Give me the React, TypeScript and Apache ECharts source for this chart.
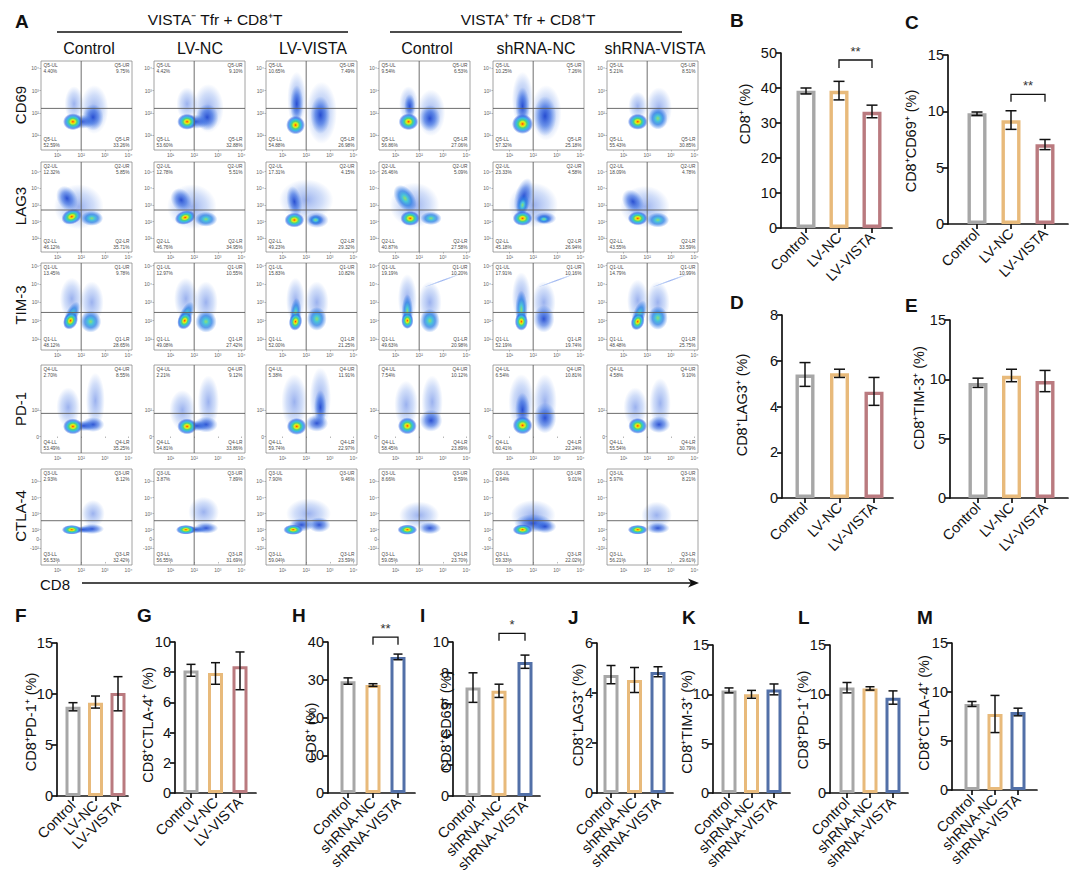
import { useEffect, useRef } from 'react';
import * as echarts from 'echarts';

const FONT = '"Liberation Sans", Arial, Helvetica, sans-serif';

// ---------------- Panel A : flow cytometry ----------------
const groupHeaders = ['VISTA⁻ Tfr + CD8⁺T', 'VISTA⁺ Tfr + CD8⁺T'];
const flowColumns = ['Control', 'LV-NC', 'LV-VISTA', 'Control', 'shRNA-NC', 'shRNA-VISTA'];
const flowMarkers = ['CD69', 'LAG3', 'TIM-3', 'PD-1', 'CTLA-4'];
const quadrantGates = ['Q5', 'Q2', 'Q1', 'Q4', 'Q3'];

const flowXTicks = [1, 2, 3, 4];
const flowXTickLabels = ['10¹', '10²', '10³', '10⁴'];

const cd69YTicks = [1, 2, 3, 4];
const cd69YLabels = ['10¹', '10²', '10³', '10⁴'];
const lag3YTicks = [1, 2, 3, 4, 5];
const lag3YLabels = ['10¹', '10²', '10³', '10⁴', '10⁵'];
const tim3YTicks = [1, 2, 3, 4, 5];
const tim3YLabels = ['10¹', '10²', '10³', '10⁴', '10⁵'];
const pd1YTicks = [0, 1];
const pd1YLabels = ['0', '10²'];
const ctla4YTicks = [0.85, 1.42, 2, 3, 4, 5];
const ctla4YLabels = ['-10²', '0', '10²', '10³', '10⁴', '10⁵'];

const flowXRange = [0.3, 4.15];
const flowYRanges = [[0.33, 4.33], [0.18, 5.58], [0.4, 5.15], [-0.62, 2.69], [-0.19, 5.77]];
const gateX = 2.0;
const gateY = [2.2, 2.7, 2.45, 0.87, 2.56];

// quadrant percentages [UL, UR, LL, LR]
const cd69Percents = [
  [4.40, 9.75, 52.59, 33.26], [4.42, 9.10, 53.60, 32.88], [10.65, 7.49, 54.88, 26.98],
  [9.54, 6.53, 56.86, 27.06], [10.25, 7.26, 57.32, 25.18], [5.21, 8.51, 55.43, 30.85],
];
const lag3Percents = [
  [12.32, 5.85, 46.12, 35.71], [12.78, 5.51, 46.76, 34.95], [17.31, 4.15, 49.23, 29.32],
  [26.46, 5.09, 40.87, 27.58], [23.33, 4.58, 45.18, 26.94], [18.09, 4.78, 43.55, 33.59],
];
const tim3Percents = [
  [13.45, 9.78, 48.12, 28.65], [12.97, 10.55, 49.08, 27.42], [15.83, 10.82, 52.00, 21.25],
  [19.19, 10.20, 49.63, 20.98], [17.91, 10.16, 52.19, 19.74], [14.79, 10.99, 48.48, 25.75],
];
const pd1Percents = [
  [2.70, 8.55, 53.49, 35.25], [2.21, 9.12, 54.81, 33.86], [5.38, 11.91, 59.74, 22.97],
  [7.54, 10.12, 58.45, 23.89], [6.54, 10.81, 60.41, 22.24], [4.58, 9.10, 55.54, 30.79],
];
const ctla4Percents = [
  [2.93, 8.12, 56.53, 32.42], [3.87, 7.89, 56.55, 31.69], [7.90, 9.46, 59.04, 23.59],
  [8.66, 8.59, 59.05, 23.70], [9.64, 9.01, 59.33, 22.02], [5.97, 8.21, 56.21, 29.61],
];

// density populations: [x, y, spreadX, spreadY, density level 0-3, tilt deg]
const cd69Populations = [
  [[1.7, 2.4, 0.4, 0.8, 0, 0], [2.55, 2.15, 0.6, 1.1, 0, 0], [2.5, 1.8, 0.45, 0.6, 1, 0], [2.0, 1.6, 0.6, 0.32, 1, 0], [1.65, 1.6, 0.42, 0.38, 3, 0]],
  [[1.7, 2.4, 0.45, 0.75, 0, 0], [2.6, 2.2, 0.65, 1.1, 0, 0], [2.55, 1.8, 0.48, 0.6, 1, 0], [2.05, 1.6, 0.6, 0.32, 1, 0], [1.7, 1.6, 0.42, 0.36, 3, 0]],
  [[1.6, 2.6, 0.4, 1.25, 0, 0], [1.6, 2.4, 0.28, 0.85, 1, 0], [2.65, 2.0, 0.65, 1.4, 0, 0], [2.6, 1.9, 0.42, 0.85, 1, 0], [1.55, 1.45, 0.4, 0.42, 3, 0]],
  [[1.55, 2.4, 0.4, 0.8, 0, 0], [1.6, 2.3, 0.24, 0.55, 1, 0], [2.5, 2.0, 0.6, 1.05, 0, 0], [2.45, 1.75, 0.45, 0.6, 1, 0], [1.55, 1.6, 0.42, 0.38, 3, 0]],
  [[1.55, 2.6, 0.45, 1.25, 0, 0], [1.55, 2.3, 0.3, 0.85, 1, 0], [2.55, 2.0, 0.65, 1.25, 0, 0], [2.5, 1.85, 0.48, 0.9, 1, 0], [1.55, 1.5, 0.45, 0.45, 3, 0]],
  [[1.6, 2.3, 0.4, 0.65, 0, 0], [2.5, 2.2, 0.55, 0.95, 0, 0], [2.45, 1.75, 0.42, 0.5, 2, 0], [1.6, 1.6, 0.42, 0.36, 3, 0]],
];
const lag3Populations = [
  [[1.9, 2.9, 1.05, 1.35, 0, 0], [1.4, 3.4, 0.42, 0.8, 1, 30], [2.45, 2.2, 0.48, 0.45, 2, 0], [1.6, 2.3, 0.45, 0.45, 3, 20]],
  [[1.9, 2.9, 1.05, 1.35, 0, 0], [1.45, 3.3, 0.42, 0.75, 1, 30], [2.5, 2.15, 0.48, 0.45, 2, 0], [1.62, 2.25, 0.45, 0.42, 3, 15]],
  [[2.0, 3.3, 1.15, 1.25, 0, 0], [1.5, 3.2, 0.32, 0.95, 1, 10], [2.45, 2.1, 0.5, 0.48, 1, 0], [2.4, 2.1, 0.32, 0.32, 2, 0], [1.5, 2.1, 0.42, 0.45, 3, 0]],
  [[1.8, 3.0, 1.05, 1.35, 0, 0], [1.4, 3.4, 0.4, 0.9, 2, 35], [2.5, 2.2, 0.45, 0.4, 2, 0], [1.62, 2.2, 0.42, 0.45, 3, 0]],
  [[2.0, 3.0, 1.05, 1.35, 0, 0], [1.6, 3.5, 0.38, 1.15, 1, -15], [1.55, 3.0, 0.27, 0.65, 2, -10], [2.5, 2.2, 0.48, 0.38, 1, 0], [2.45, 2.15, 0.32, 0.27, 2, 0], [1.55, 2.2, 0.42, 0.45, 3, 0]],
  [[1.9, 2.9, 1.05, 1.25, 0, 0], [1.4, 3.2, 0.42, 0.8, 1, 35], [2.45, 2.1, 0.48, 0.45, 2, 0], [1.6, 2.2, 0.42, 0.42, 3, 0]],
];
const tim3Populations = [
  [[1.6, 3.2, 0.5, 1.15, 0, 0], [2.45, 3.0, 0.5, 1.15, 0, 0], [2.4, 1.95, 0.45, 0.6, 2, 0], [1.6, 2.3, 0.27, 0.8, 2, -25], [1.55, 2.0, 0.3, 0.5, 3, -25]],
  [[1.65, 3.2, 0.5, 1.15, 0, 0], [2.5, 3.0, 0.5, 1.15, 0, 0], [2.5, 1.95, 0.45, 0.6, 2, 0], [1.65, 2.3, 0.27, 0.8, 2, -25], [1.6, 2.0, 0.3, 0.5, 3, -25]],
  [[1.55, 3.1, 0.4, 1.25, 0, 0], [2.45, 3.0, 0.5, 1.15, 0, 0], [2.45, 2.1, 0.42, 0.65, 2, 0], [1.55, 2.4, 0.24, 0.85, 2, -5], [1.55, 1.95, 0.28, 0.5, 3, -10]],
  [[1.5, 3.2, 0.4, 1.35, 0, 0], [2.45, 3.0, 0.5, 1.15, 0, 0], [3.0, 4.2, 0.9, 0.06, 0, 20], [2.45, 2.0, 0.42, 0.65, 2, 0], [1.5, 2.5, 0.24, 0.95, 2, 0], [1.5, 2.0, 0.26, 0.45, 3, 0]],
  [[1.5, 3.3, 0.4, 1.35, 0, 0], [2.45, 3.0, 0.5, 1.15, 0, 0], [3.0, 4.2, 0.9, 0.06, 0, 20], [2.45, 2.1, 0.45, 0.75, 1, 0], [1.5, 2.6, 0.26, 1.05, 2, 0], [1.5, 1.95, 0.28, 0.5, 3, 0]],
  [[1.6, 3.1, 0.45, 1.15, 0, 0], [2.45, 3.0, 0.5, 1.15, 0, 0], [3.0, 4.2, 0.9, 0.06, 0, 20], [2.45, 2.15, 0.42, 0.65, 2, 0], [1.65, 2.3, 0.27, 0.85, 2, -20], [1.6, 1.95, 0.28, 0.48, 3, -20]],
];
const pd1Populations = [
  [[1.45, 1.1, 0.5, 0.75, 0, 0], [2.6, 1.35, 0.4, 1.05, 0, 0], [2.5, 0.45, 0.48, 0.28, 1, 0], [2.1, 0.4, 0.5, 0.2, 1, 0], [1.65, 0.38, 0.42, 0.3, 3, 0]],
  [[1.5, 1.0, 0.55, 0.75, 0, 0], [2.6, 1.3, 0.45, 1.0, 0, 0], [2.5, 0.45, 0.5, 0.3, 1, 0], [2.1, 0.4, 0.5, 0.2, 1, 0], [1.7, 0.38, 0.42, 0.3, 3, 0]],
  [[1.5, 1.3, 0.55, 1.05, 0, 0], [2.6, 1.45, 0.45, 1.15, 0, 0], [2.6, 1.1, 0.27, 0.65, 1, 0], [2.45, 0.5, 0.48, 0.32, 1, 0], [1.6, 0.38, 0.42, 0.32, 3, 0]],
  [[1.45, 1.2, 0.5, 0.9, 0, 0], [2.55, 1.3, 0.45, 1.0, 0, 0], [2.5, 0.6, 0.48, 0.42, 1, 0], [1.5, 0.4, 0.4, 0.32, 3, 0]],
  [[1.5, 1.3, 0.55, 1.05, 0, 0], [2.5, 1.3, 0.5, 1.05, 0, 0], [1.55, 1.0, 0.32, 0.65, 1, 0], [2.5, 0.7, 0.48, 0.58, 1, 0], [1.55, 0.42, 0.42, 0.34, 3, 0]],
  [[1.5, 1.1, 0.5, 0.75, 0, 0], [2.55, 1.25, 0.45, 0.95, 0, 0], [2.5, 0.45, 0.48, 0.32, 1, 0], [1.6, 0.4, 0.4, 0.3, 3, 0]],
];
const ctla4Populations = [
  [[2.5, 3.0, 0.5, 0.85, 0, 0], [2.45, 2.05, 0.52, 0.32, 1, 0], [2.05, 2.0, 0.5, 0.22, 1, 0], [1.6, 2.0, 0.42, 0.3, 3, 0]],
  [[2.4, 3.1, 0.65, 0.95, 0, 0], [2.5, 2.1, 0.52, 0.35, 1, 0], [2.05, 2.0, 0.5, 0.22, 1, 0], [1.65, 2.0, 0.42, 0.3, 3, 0]],
  [[2.1, 3.0, 0.95, 0.95, 0, 0], [2.55, 2.3, 0.48, 0.48, 1, 0], [1.8, 2.3, 0.52, 0.42, 1, 0], [1.45, 2.0, 0.42, 0.32, 3, 0]],
  [[2.0, 2.9, 0.85, 0.85, 0, 0], [2.45, 2.1, 0.48, 0.38, 1, 0], [1.5, 2.0, 0.42, 0.32, 3, 0]],
  [[2.0, 2.9, 0.95, 0.95, 0, 0], [2.0, 2.4, 0.8, 0.58, 1, 0], [2.5, 2.2, 0.48, 0.42, 1, 0], [1.55, 2.0, 0.42, 0.34, 3, 0]],
  [[2.4, 2.9, 0.65, 0.85, 0, 0], [2.45, 2.1, 0.5, 0.35, 1, 0], [1.6, 2.0, 0.42, 0.3, 3, 0]],
];

// ---------------- Panels B-M : bar charts ----------------
const lvGroups = ['Control', 'LV-NC', 'LV-VISTA'];
const shGroups = ['Control', 'shRNA-NC', 'shRNA-VISTA'];
const lvColors = ['#a7a7a7', '#e8ba7b', '#ba7a7f'];
const shColors = ['#a7a7a7', '#e8ba7b', '#5270a8'];

const cd8LVMean = [39.2, 39.2, 33.2];
const cd8LVLow = [38.3, 36.6, 31.5];
const cd8LVHigh = [40.0, 41.9, 35.1];
const cd69LVMean = [9.82, 9.2, 7.07];
const cd69LVLow = [9.64, 8.4, 6.6];
const cd69LVHigh = [9.94, 10.05, 7.5];
const lag3LVMean = [5.4, 5.45, 4.65];
const lag3LVLow = [4.88, 5.27, 4.05];
const lag3LVHigh = [5.92, 5.63, 5.27];
const tim3LVMean = [9.7, 10.3, 9.85];
const tim3LVLow = [9.32, 9.8, 8.96];
const tim3LVHigh = [10.1, 10.85, 10.75];
const pd1LVMean = [8.75, 9.15, 10.1];
const pd1LVLow = [8.35, 8.62, 8.35];
const pd1LVHigh = [9.15, 9.8, 11.7];
const ctla4LVMean = [8.12, 7.95, 8.39];
const ctla4LVLow = [7.73, 7.2, 6.84];
const ctla4LVHigh = [8.52, 8.63, 9.34];

const cd8SHMean = [29.6, 28.6, 36.0];
const cd8SHLow = [28.8, 28.25, 35.3];
const cd8SHHigh = [30.5, 28.95, 36.8];
const cd69SHMean = [7.05, 6.83, 8.7];
const cd69SHLow = [6.08, 6.4, 8.29];
const cd69SHHigh = [8.0, 7.26, 9.15];
const lag3SHMean = [4.72, 4.52, 4.84];
const lag3SHLow = [4.37, 4.02, 4.65];
const lag3SHHigh = [5.1, 5.02, 5.05];
const tim3SHMean = [10.4, 10.0, 10.5];
const tim3SHLow = [10.15, 9.6, 9.95];
const tim3SHHigh = [10.65, 10.4, 11.05];
const pd1SHMean = [10.7, 10.6, 9.65];
const pd1SHLow = [10.15, 10.43, 9.0];
const pd1SHHigh = [11.2, 10.77, 10.35];
const ctla4SHMean = [8.78, 7.76, 7.95];
const ctla4SHLow = [8.52, 5.86, 7.57];
const ctla4SHHigh = [9.03, 9.65, 8.35];

// significance: [from group, to group, bracket top, bracket foot]
const cd8LVSig = [1, 2, 48.0, 45.7];
const cd69LVSig = [1, 2, 11.5, 10.85];
const cd8SHSig = [1, 2, 41.3, 39.3];
const cd69SHSig = [1, 2, 10.56, 10.08];

const barPanels = [
  { letter: 'B', title: 'CD8⁺ (%)', groups: lvGroups, colors: lvColors, mean: cd8LVMean, low: cd8LVLow, high: cd8LVHigh, ymax: 50, interval: 10, sig: cd8LVSig, stars: '**' },
  { letter: 'C', title: 'CD8⁺CD69⁺ (%)', groups: lvGroups, colors: lvColors, mean: cd69LVMean, low: cd69LVLow, high: cd69LVHigh, ymax: 15, interval: 5, sig: cd69LVSig, stars: '**' },
  { letter: 'D', title: 'CD8⁺LAG3⁺ (%)', groups: lvGroups, colors: lvColors, mean: lag3LVMean, low: lag3LVLow, high: lag3LVHigh, ymax: 8, interval: 2 },
  { letter: 'E', title: 'CD8⁺TIM-3⁺ (%)', groups: lvGroups, colors: lvColors, mean: tim3LVMean, low: tim3LVLow, high: tim3LVHigh, ymax: 15, interval: 5 },
  { letter: 'F', title: 'CD8⁺PD-1⁺ (%)', groups: lvGroups, colors: lvColors, mean: pd1LVMean, low: pd1LVLow, high: pd1LVHigh, ymax: 15, interval: 5 },
  { letter: 'G', title: 'CD8⁺CTLA-4⁺ (%)', groups: lvGroups, colors: lvColors, mean: ctla4LVMean, low: ctla4LVLow, high: ctla4LVHigh, ymax: 10, interval: 2 },
  { letter: 'H', title: 'CD8⁺ (%)', groups: shGroups, colors: shColors, mean: cd8SHMean, low: cd8SHLow, high: cd8SHHigh, ymax: 40, interval: 10, sig: cd8SHSig, stars: '**' },
  { letter: 'I', title: 'CD8⁺CD69⁺ (%)', groups: shGroups, colors: shColors, mean: cd69SHMean, low: cd69SHLow, high: cd69SHHigh, ymax: 10, interval: 2, sig: cd69SHSig, stars: '*' },
  { letter: 'J', title: 'CD8⁺LAG3⁺ (%)', groups: shGroups, colors: shColors, mean: lag3SHMean, low: lag3SHLow, high: lag3SHHigh, ymax: 6, interval: 2 },
  { letter: 'K', title: 'CD8⁺TIM-3⁺ (%)', groups: shGroups, colors: shColors, mean: tim3SHMean, low: tim3SHLow, high: tim3SHHigh, ymax: 15, interval: 5 },
  { letter: 'L', title: 'CD8⁺PD-1⁺ (%)', groups: shGroups, colors: shColors, mean: pd1SHMean, low: pd1SHLow, high: pd1SHHigh, ymax: 15, interval: 5 },
  { letter: 'M', title: 'CD8⁺CTLA-4⁺ (%)', groups: shGroups, colors: shColors, mean: ctla4SHMean, low: ctla4SHLow, high: ctla4SHHigh, ymax: 15, interval: 5 },
];

// ---------------- layout (pixels) ----------------
const flowLeft = [41, 154, 266, 379, 493, 607];
const flowWidth = 91;
const flowTop = [61, 162, 263, 365, 469];
const flowHeight = [89, 90, 87, 88, 96];

// [axisX, axisEndX, topY, bottomY, firstBarX, lastBarX, titleX, titleY, letterX, letterY, big]
const barLayout = [
  [781, 892, 53, 228, 806, 872, 745, 114, 730, 20, 1],
  [948, 1068, 55, 224, 977, 1045, 911, 141, 905, 22, 1],
  [782, 893, 315, 498, 805, 874, 742, 405, 730, 302, 1],
  [950, 1068, 320, 498, 978, 1045, 919, 398, 905, 305, 1],
  [57, 128, 643, 796, 73, 118, 31, 722, 15, 615, 0],
  [175, 256, 642, 793, 191, 240, 148, 725, 137, 615, 0],
  [328, 415, 642, 793, 348, 398, 311, 733, 292, 615, 0],
  [453, 540, 642, 796, 473, 525, 446, 722, 420, 615, 0],
  [597, 673, 643, 793, 611, 658, 578, 715, 568, 617, 0],
  [713, 790, 645, 793, 729, 774, 687, 722, 682, 617, 0],
  [830, 908, 645, 793, 847, 893, 803, 720, 798, 617, 0],
  [952, 1037, 643, 790, 972, 1018, 924, 713, 917, 617, 0],
];

function txt(text: string, x: number, y: number, size: number, opts: any = {}) {
  const align = opts.align || 'center';
  const valign = opts.valign || 'middle';
  return {
    type: 'text',
    x,
    y,
    rotation: opts.rotation || 0,
    silent: true,
    style: {
      text,
      fontSize: size,
      fontFamily: FONT,
      fontWeight: opts.bold ? 'bold' : 'normal',
      fill: opts.color || '#111',
      align,
      textAlign: align,
      verticalAlign: valign,
      textVerticalAlign: valign,
    },
  };
}

function buildOption() {
  const grid: any[] = [];
  const xAxis: any[] = [];
  const yAxis: any[] = [];
  const series: any[] = [];
  const graphic: any[] = [];

  const fills = [
    new echarts.graphic.RadialGradient(0.5, 0.5, 0.5, [
      { offset: 0, color: 'rgba(55,100,222,0.5)' },
      { offset: 0.6, color: 'rgba(75,125,230,0.26)' },
      { offset: 1, color: 'rgba(80,130,230,0)' },
    ]),
    new echarts.graphic.RadialGradient(0.5, 0.5, 0.5, [
      { offset: 0, color: 'rgba(25,65,205,0.9)' },
      { offset: 0.5, color: 'rgba(40,95,222,0.58)' },
      { offset: 1, color: 'rgba(60,120,230,0)' },
    ]),
    new echarts.graphic.RadialGradient(0.5, 0.5, 0.5, [
      { offset: 0, color: '#8ee070' },
      { offset: 0.25, color: '#49c6d8' },
      { offset: 0.55, color: 'rgba(40,125,228,0.75)' },
      { offset: 1, color: 'rgba(40,110,230,0)' },
    ]),
    new echarts.graphic.RadialGradient(0.5, 0.5, 0.5, [
      { offset: 0, color: '#ff2a10' },
      { offset: 0.12, color: '#ffb400' },
      { offset: 0.25, color: '#d8f020' },
      { offset: 0.4, color: '#4fd47a' },
      { offset: 0.6, color: '#38b8e8' },
      { offset: 0.8, color: 'rgba(45,100,228,0.65)' },
      { offset: 1, color: 'rgba(50,110,230,0)' },
    ]),
  ];

  const rowTicks = [cd69YTicks, lag3YTicks, tim3YTicks, pd1YTicks, ctla4YTicks];
  const rowLabels = [cd69YLabels, lag3YLabels, tim3YLabels, pd1YLabels, ctla4YLabels];
  const rowPercents = [cd69Percents, lag3Percents, tim3Percents, pd1Percents, ctla4Percents];
  const rowPops = [cd69Populations, lag3Populations, tim3Populations, pd1Populations, ctla4Populations];

  let gi = 0;
  flowMarkers.forEach((_m, r) => {
    flowColumns.forEach((_c, c) => {
      grid.push({
        left: flowLeft[c], top: flowTop[r], width: flowWidth, height: flowHeight[r],
        show: true, borderColor: '#8a8a8a', borderWidth: 0.8, backgroundColor: '#fff',
      });
      xAxis.push({
        gridIndex: gi, type: 'value', min: flowXRange[0], max: flowXRange[1],
        axisLine: { show: false }, splitLine: { show: false },
        axisTick: { show: true, customValues: flowXTicks, length: 1.5, lineStyle: { color: '#888', width: 0.6 } },
        axisLabel: {
          customValues: flowXTicks, fontSize: 5, color: '#666', margin: 2.5, fontFamily: FONT,
          formatter: (v: number) => flowXTickLabels[flowXTicks.indexOf(v)] ?? '',
        },
      });
      const yt = rowTicks[r];
      const yl = rowLabels[r];
      yAxis.push({
        gridIndex: gi, type: 'value', min: flowYRanges[r][0], max: flowYRanges[r][1],
        axisLine: { show: false }, splitLine: { show: false },
        axisTick: { show: true, customValues: yt, length: 1.5, lineStyle: { color: '#888', width: 0.6 } },
        axisLabel: {
          customValues: yt, fontSize: 5, color: '#666', margin: 2, fontFamily: FONT,
          formatter: (v: number) => yl[yt.indexOf(v)] ?? '',
        },
      });
      const pops = rowPops[r][c].slice().sort((a, b) => a[4] - b[4]);
      series.push({
        type: 'custom', xAxisIndex: gi, yAxisIndex: gi, silent: true, clip: true,
        data: pops,
        renderItem: (_p: any, api: any) => {
          const pt = api.coord([api.value(0), api.value(1)]);
          const sz = api.size([api.value(2), api.value(3)]);
          return {
            type: 'circle', x: pt[0], y: pt[1], scaleX: sz[0] / 10, scaleY: sz[1] / 10,
            rotation: (api.value(5) * Math.PI) / 180,
            shape: { cx: 0, cy: 0, r: 10 },
            style: { fill: fills[api.value(4)] },
          };
        },
      });
      const pc = rowPercents[r][c];
      const q = quadrantGates[r];
      series.push({
        type: 'custom', xAxisIndex: gi, yAxisIndex: gi, silent: true, clip: false, z: 5,
        data: [[gateX, gateY[r], pc[0], pc[1], pc[2], pc[3]]],
        renderItem: (params: any, api: any) => {
          const cs = params.coordSys;
          const p = api.coord([api.value(0), api.value(1)]);
          const f = (v: number) => v.toFixed(2) + '%';
          const t = (s: string, x: number, y: number, align: string) => ({
            type: 'text',
            style: { text: s, x, y, fontSize: 4.8, fontFamily: FONT, fill: '#4a4a4a', align, textAlign: align, verticalAlign: 'top', textVerticalAlign: 'top' },
          });
          const l = cs.x + 2.5;
          const rr = cs.x + cs.width - 2.5;
          const top = cs.y + 2;
          const bot = cs.y + cs.height - 13;
          return {
            type: 'group',
            children: [
              { type: 'line', shape: { x1: p[0], y1: cs.y, x2: p[0], y2: cs.y + cs.height }, style: { stroke: '#5c5c5c', lineWidth: 0.9 } },
              { type: 'line', shape: { x1: cs.x, y1: p[1], x2: cs.x + cs.width, y2: p[1] }, style: { stroke: '#5c5c5c', lineWidth: 0.9 } },
              t(q + '-UL', l, top, 'left'), t(f(api.value(2)), l, top + 5.5, 'left'),
              t(q + '-UR', rr, top, 'right'), t(f(api.value(3)), rr, top + 5.5, 'right'),
              t(q + '-LL', l, bot, 'left'), t(f(api.value(4)), l, bot + 5.5, 'left'),
              t(q + '-LR', rr, bot, 'right'), t(f(api.value(5)), rr, bot + 5.5, 'right'),
            ],
          };
        },
      });
      gi++;
    });
  });

  // bar panels
  barPanels.forEach((bp, k) => {
    const [ax, axEnd, top, bottom, c0, c2, tx, ty, lx, ly, big] = barLayout[k];
    const step = (c2 - c0) / 2;
    grid.push({ left: ax, top, width: axEnd - ax, height: bottom - top });
    xAxis.push({
      gridIndex: gi, type: 'value', min: -(c0 - ax) / step, max: 2 + (axEnd - c2) / step,
      axisLine: { show: true, onZero: false, lineStyle: { color: '#111', width: 1.7 } },
      splitLine: { show: false },
      axisTick: { show: true, customValues: [0, 1, 2], length: 5, lineStyle: { color: '#111', width: 1.7 } },
      axisLabel: {
        customValues: [0, 1, 2], rotate: 45, fontSize: 14.5, color: '#111', margin: 7, fontFamily: FONT,
        formatter: (v: number) => bp.groups[Math.round(v)],
      },
    });
    yAxis.push({
      gridIndex: gi, type: 'value', min: 0, max: bp.ymax, interval: bp.interval,
      axisLine: { show: true, onZero: false, lineStyle: { color: '#111', width: 1.7 } },
      splitLine: { show: false },
      axisTick: { show: true, length: 5, lineStyle: { color: '#111', width: 1.7 } },
      axisLabel: { fontSize: 14.5, color: '#111', margin: 4, fontFamily: FONT },
    });
    series.push({
      type: 'bar', xAxisIndex: gi, yAxisIndex: gi, barWidth: big ? 19 : 15, silent: true,
      data: bp.mean.map((v, i) => ({
        value: [i, v],
        itemStyle: { color: '#fff', borderColor: bp.colors[i], borderWidth: big ? 3.4 : 3 },
      })),
    });
    const cap = big ? 5.5 : 4.5;
    series.push({
      type: 'custom', xAxisIndex: gi, yAxisIndex: gi, silent: true, clip: false, z: 4,
      data: bp.mean.map((_v, i) => [i, bp.low[i], bp.high[i]]),
      renderItem: (_p: any, api: any) => {
        const a = api.coord([api.value(0), api.value(1)]);
        const b = api.coord([api.value(0), api.value(2)]);
        const st = { stroke: '#111', lineWidth: 1.5 };
        return {
          type: 'group',
          children: [
            { type: 'line', shape: { x1: a[0], y1: a[1], x2: b[0], y2: b[1] }, style: st },
            { type: 'line', shape: { x1: a[0] - cap, y1: a[1], x2: a[0] + cap, y2: a[1] }, style: st },
            { type: 'line', shape: { x1: b[0] - cap, y1: b[1], x2: b[0] + cap, y2: b[1] }, style: st },
          ],
        };
      },
    });
    if (bp.sig) {
      const stars = bp.stars;
      series.push({
        type: 'custom', xAxisIndex: gi, yAxisIndex: gi, silent: true, clip: false, z: 4,
        data: [bp.sig],
        renderItem: (_p: any, api: any) => {
          const p1 = api.coord([api.value(0), api.value(2)]);
          const p2 = api.coord([api.value(1), api.value(2)]);
          const foot = api.coord([api.value(0), api.value(3)]);
          return {
            type: 'group',
            children: [
              { type: 'polyline', shape: { points: [[p1[0], foot[1]], [p1[0], p1[1]], [p2[0], p2[1]], [p2[0], foot[1]]] }, style: { stroke: '#111', lineWidth: 1.3, fill: 'none' } },
              { type: 'text', style: { text: stars, x: (p1[0] + p2[0]) / 2, y: p1[1] - 2, fontSize: 13, fontFamily: FONT, fill: '#333', align: 'center', textAlign: 'center', verticalAlign: 'bottom', textVerticalAlign: 'bottom' } },
            ],
          };
        },
      });
    }
    graphic.push(txt(bp.title, tx, ty, 14.5, { rotation: Math.PI / 2 }));
    graphic.push(txt(bp.letter, lx, ly, 19, { bold: true, align: 'left' }));
    gi++;
  });

  // panel A decorations
  graphic.push(txt('A', 15, 21, 19, { bold: true, align: 'left' }));
  graphic.push(txt(groupHeaders[0], 215, 19, 15.5));
  graphic.push(txt(groupHeaders[1], 528, 19, 15.5));
  graphic.push({ type: 'line', silent: true, shape: { x1: 57, y1: 32, x2: 348, y2: 32 }, style: { stroke: '#111', lineWidth: 1.5 } });
  graphic.push({ type: 'line', silent: true, shape: { x1: 390, y1: 32, x2: 682, y2: 32 }, style: { stroke: '#111', lineWidth: 1.5 } });
  const headerX = [89, 200, 313, 427, 536, 655];
  flowColumns.forEach((c, i) => graphic.push(txt(c, headerX[i], 48, 16)));
  const markerY = [105, 206, 305, 409, 516];
  flowMarkers.forEach((m, i) => graphic.push(txt(m, 20, markerY[i], 15, { rotation: Math.PI / 2 })));
  graphic.push(txt('CD8', 40, 584, 15, { align: 'left' }));
  graphic.push({ type: 'line', silent: true, shape: { x1: 82, y1: 583, x2: 692, y2: 583 }, style: { stroke: '#111', lineWidth: 1.5 } });
  graphic.push({ type: 'polygon', silent: true, shape: { points: [[699, 583], [688, 578.5], [691, 583], [688, 587.5]] }, style: { fill: '#111' } });

  return {
    animation: false,
    backgroundColor: '#fff',
    textStyle: { fontFamily: FONT },
    grid, xAxis, yAxis, series, graphic,
  };
}

export default function App() {
  const ref = useRef<HTMLDivElement>(null);
  useEffect(() => {
    const chart = echarts.init(ref.current as HTMLDivElement, null, { renderer: 'svg' });
    chart.setOption(buildOption() as any);
    return () => chart.dispose();
  }, []);
  return <div ref={ref} style={{ position: 'fixed', left: 0, top: 0, width: 1080, height: 884, background: '#fff' }} />;
}
